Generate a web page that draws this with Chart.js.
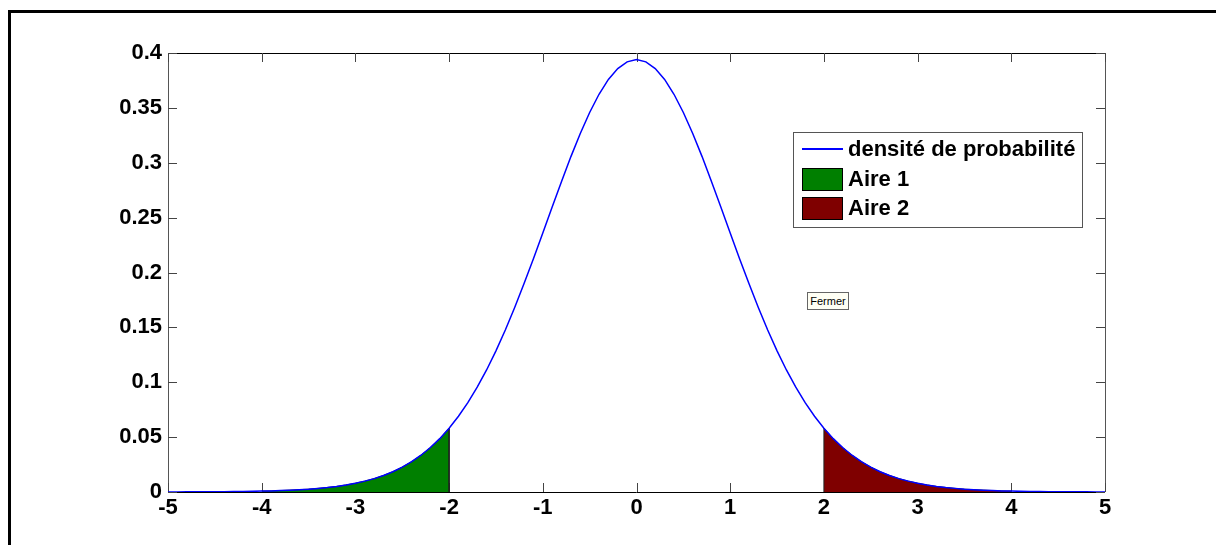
<!DOCTYPE html>
<html>
<head>
<meta charset="utf-8">
<script src="https://cdn.jsdelivr.net/npm/chart.js@4/dist/chart.umd.min.js"></script>
<style>
  html, body { margin: 0; padding: 0; background: #fff; }
  #wrap { position: relative; width: 1216px; height: 545px; overflow: hidden; }
  #fermer {
    position: absolute; left: 807px; top: 292px; width: 40px; height: 16px;
    border: 1px solid #666; background: #fffff4; font: 11px "Liberation Sans", Arial, sans-serif;
    line-height: 16px; text-align: center; color: #000;
  }
</style>
</head>
<body>
<div id="wrap">
  <canvas id="c" width="1216" height="545"></canvas>
  <div id="fermer">Fermer</div>
</div>
<script>
// ---- data ----
const xValues = [
  -5.0,-4.9,-4.8,-4.7,-4.6,-4.5,-4.4,-4.3,-4.2,-4.1,
  -4.0,-3.9,-3.8,-3.7,-3.6,-3.5,-3.4,-3.3,-3.2,-3.1,
  -3.0,-2.9,-2.8,-2.7,-2.6,-2.5,-2.4,-2.3,-2.2,-2.1,
  -2.0,-1.9,-1.8,-1.7,-1.6,-1.5,-1.4,-1.3,-1.2,-1.1,
  -1.0,-0.9,-0.8,-0.7,-0.6,-0.5,-0.4,-0.3,-0.2,-0.1,
   0.0, 0.1, 0.2, 0.3, 0.4, 0.5, 0.6, 0.7, 0.8, 0.9,
   1.0, 1.1, 1.2, 1.3, 1.4, 1.5, 1.6, 1.7, 1.8, 1.9,
   2.0, 2.1, 2.2, 2.3, 2.4, 2.5, 2.6, 2.7, 2.8, 2.9,
   3.0, 3.1, 3.2, 3.3, 3.4, 3.5, 3.6, 3.7, 3.8, 3.9,
   4.0, 4.1, 4.2, 4.3, 4.4, 4.5, 4.6, 4.7, 4.8, 4.9,
   5.0
];
const density = [
  0.0001,0.0001,0.0002,0.0002,0.0002,0.0003,0.0003,0.0004,0.0005,0.0006,
  0.0008,0.0010,0.0013,0.0017,0.0021,0.0026,0.0033,0.0041,0.0051,0.0064,
  0.0080,0.0099,0.0122,0.0151,0.0185,0.0227,0.0276,0.0335,0.0405,0.0486,
  0.0581,0.0690,0.0814,0.0955,0.1112,0.1286,0.1476,0.1681,0.1899,0.2126,
  0.2360,0.2597,0.2830,0.3056,0.3267,0.3458,0.3624,0.3759,0.3858,0.3919,
  0.3940,
  0.3919,0.3858,0.3759,0.3624,0.3458,0.3267,0.3056,0.2830,0.2597,0.2360,
  0.2126,0.1899,0.1681,0.1476,0.1286,0.1112,0.0955,0.0814,0.0690,0.0581,
  0.0486,0.0405,0.0335,0.0276,0.0227,0.0185,0.0151,0.0122,0.0099,0.0080,
  0.0064,0.0051,0.0041,0.0033,0.0026,0.0021,0.0017,0.0013,0.0010,0.0008,
  0.0006,0.0005,0.0004,0.0003,0.0003,0.0002,0.0002,0.0002,0.0001,0.0001
];
const area1Range = [-4, -2];
const area2Range = [2, 4];
const seriesLabels = ['densité de probabilité', 'Aire 1', 'Aire 2'];
const xTickLabels = ['-5','-4','-3','-2','-1','0','1','2','3','4','5'];
const yTickLabels = ['0','0.05','0.1','0.15','0.2','0.25','0.3','0.35','0.4'];

// ---- build points ----
const curve = xValues.map((x, i) => ({ x: x, y: density[i] }));
function areaPoints(r, closeRight) {
  const pts = curve.filter(p => p.x >= r[0] - 1e-9 && p.x <= r[1] + 1e-9);
  if (closeRight) pts.push({ x: r[1], y: 0 });
  else pts.unshift({ x: r[0], y: 0 });
  return pts;
}

const COL_LINE = '#0000ff';
const COL_A1 = '#007f00';
const COL_A2 = '#7f0000';
const FONT = '"Liberation Sans", Arial, sans-serif';

const framePlugin = {
  id: 'frame',
  beforeDraw(chart) {
    const ctx = chart.ctx;
    ctx.save();
    ctx.fillStyle = '#fff';
    ctx.fillRect(0, 0, chart.width, chart.height);
    ctx.fillStyle = '#000';
    ctx.fillRect(8, 10, chart.width - 8, 3);
    ctx.fillRect(8, 10, 3, chart.height - 10);
    ctx.restore();
  },
  beforeDatasetsDraw(chart) {
    const ctx = chart.ctx;
    const a = chart.chartArea;
    const xs = chart.scales.x, ys = chart.scales.y;
    ctx.save();
    ctx.lineWidth = 1;
    ctx.strokeStyle = '#000';
    ctx.beginPath();
    ctx.moveTo(a.left, a.top + 0.5); ctx.lineTo(a.right, a.top + 0.5);
    ctx.moveTo(a.left, a.bottom + 0.5); ctx.lineTo(a.right, a.bottom + 0.5);
    ctx.stroke();
    ctx.strokeStyle = '#555';
    ctx.beginPath();
    ctx.moveTo(a.left + 0.5, a.top); ctx.lineTo(a.left + 0.5, a.bottom);
    ctx.moveTo(a.right + 0.5, a.top); ctx.lineTo(a.right + 0.5, a.bottom);
    ctx.stroke();
    const tl = 9;
    ctx.strokeStyle = '#444';
    ctx.beginPath();
    xTickLabels.forEach(t => {
      const px = Math.round(xs.getPixelForValue(parseFloat(t))) + 0.5;
      ctx.moveTo(px, a.bottom); ctx.lineTo(px, a.bottom - tl);
      ctx.moveTo(px, a.top); ctx.lineTo(px, a.top + tl);
    });
    yTickLabels.forEach(t => {
      const py = Math.round(ys.getPixelForValue(parseFloat(t))) + 0.5;
      ctx.moveTo(a.left, py); ctx.lineTo(a.left + tl, py);
      ctx.moveTo(a.right, py); ctx.lineTo(a.right - tl, py);
    });
    ctx.stroke();
    ctx.restore();
  },
  afterDraw(chart) {
    const ctx = chart.ctx;
    const ds = chart.data.datasets;
    ctx.save();
    const bx = 793.5, by = 132.5, bw = 289, bh = 95;
    ctx.fillStyle = '#fff';
    ctx.fillRect(bx, by, bw, bh);
    ctx.strokeStyle = '#555';
    ctx.lineWidth = 1;
    ctx.strokeRect(bx, by, bw, bh);
    const rows = [149, 179, 208];
    ctx.font = 'bold 22px ' + FONT;
    ctx.textBaseline = 'middle';
    ds.forEach((d, i) => {
      const cy = rows[i];
      if (i === 0) {
        ctx.strokeStyle = d.borderColor;
        ctx.lineWidth = 2;
        ctx.beginPath(); ctx.moveTo(802, cy); ctx.lineTo(843, cy); ctx.stroke();
      } else {
        ctx.fillStyle = d.backgroundColor;
        ctx.fillRect(802, cy - 11, 41, 22);
        ctx.strokeStyle = '#000';
        ctx.lineWidth = 1;
        ctx.strokeRect(802.5, cy - 10.5, 40, 22);
      }
      ctx.fillStyle = '#000';
      ctx.fillText(d.label, 848, cy + 1);
    });
    ctx.restore();
  }
};

new Chart(document.getElementById('c'), {
  type: 'line',
  data: {
    datasets: [
      {
        label: seriesLabels[0], data: curve, borderColor: COL_LINE, borderWidth: 1.5,
        pointRadius: 0, fill: false, tension: 0, order: 0
      },
      {
        label: seriesLabels[1], data: areaPoints(area1Range, true), borderColor: '#222',
        backgroundColor: COL_A1, borderWidth: 1, pointRadius: 0, fill: 'origin', tension: 0, order: 1
      },
      {
        label: seriesLabels[2], data: areaPoints(area2Range, false), borderColor: '#222',
        backgroundColor: COL_A2, borderWidth: 1, pointRadius: 0, fill: 'origin', tension: 0, order: 2
      }
    ]
  },
  options: {
    responsive: false,
    animation: false,
    events: [],
    layout: { padding: { left: 0, top: 53, right: 111, bottom: 0 } },
    plugins: { legend: { display: false }, tooltip: { enabled: false } },
    scales: {
      x: {
        type: 'linear', min: -5, max: 5,
        grid: { display: false, drawTicks: false }, border: { display: false },
        afterBuildTicks(s) { s.ticks = xTickLabels.map(t => ({ value: parseFloat(t) })); },
        afterFit(s) { s.height = 53; },
        ticks: {
          padding: 3, color: '#000', maxRotation: 0, autoSkip: false,
          font: { family: FONT, size: 22, weight: 'bold' },
          callback: (v, i) => xTickLabels[i]
        }
      },
      y: {
        type: 'linear', min: 0, max: 0.4,
        grid: { display: false, drawTicks: false }, border: { display: false },
        afterBuildTicks(s) { s.ticks = yTickLabels.map(t => ({ value: parseFloat(t) })); },
        afterFit(s) { s.width = 168; },
        ticks: {
          padding: 6, color: '#000', autoSkip: false,
          font: { family: FONT, size: 22, weight: 'bold' },
          callback: (v, i) => yTickLabels[i]
        }
      }
    }
  },
  plugins: [framePlugin]
});
</script>
</body>
</html>
